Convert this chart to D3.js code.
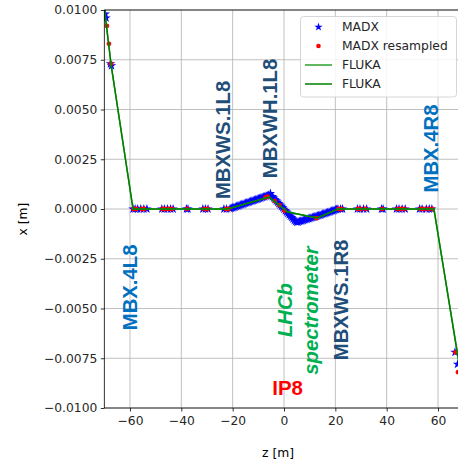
<!DOCTYPE html>
<html>
<head>
<meta charset="utf-8">
<script src="https://cdn.jsdelivr.net/npm/d3@7"></script>
<style>
  html, body { margin: 0; padding: 0; background: #fff; }
  svg { display: block; }
  text { font-family: "DejaVu Sans", sans-serif; }
</style>
</head>
<body>
<svg id="chart" width="458" height="462"></svg>
<script>
// MADX closed orbit around IP8 (star markers)
const madxZ = [
  -69.6, -69.3, -67.6, -67.2,
  -58.8, -58.0, -57.0, -55.8, -54.6, -53.4, -47.6, -46.6, -45.4, -44.2, -43.2,
  -38.0, -37.4, -31.6, -30.6, -29.6, -23.4, -22.4,
  -21, -20.5, -20, -19.5, -19, -18.5, -18, -17.5, -17, -16.5, -16, -15.5, -15, -14.5, -14,
  -13.5, -13, -12.5, -12, -11.5, -11, -10.5, -10, -9.5, -9, -8.5, -8, -7.5, -7, -6.5, -6, -5.3,
  -4.5, -4, -3.5, -3, -2.5, -2, -1.5, -1, -0.5, 0, 0.5, 1, 1.5, 2, 2.5, 3, 3.5, 4, 4.5, 5,
  5.5, 6, 6.5, 7, 7.5, 8, 8.5, 9, 9.5, 10, 10.5, 11, 11.5, 12, 12.5, 13, 13.5, 14, 14.5, 15,
  15.5, 16, 16.5, 17, 17.5, 18, 18.5, 19, 19.5, 20, 20.5, 21,
  22.0, 22.8, 28.6, 29.6, 31.0, 32.2, 38.0, 38.6, 43.8, 44.8, 46.0, 47.2,
  52.8, 53.8, 55.4, 56.6, 57.6,
  66.6, 67.6
];
const madxX = [
  0.0098, 0.0096, 0.0073, 0.0072,
  0, 0, 0, 0, 0, 0, 0, 0, 0, 0, 0,
  0, 0, 0, 0, 0, 0, 0,
  0.00002, 0.00004, 0.00006, 0.00008, 0.0001, 0.00013, 0.00015, 0.00017, 0.0002, 0.00022,
  0.00024, 0.00026, 0.00029, 0.00031, 0.00033, 0.00035, 0.00038, 0.0004, 0.00042, 0.00044,
  0.00047, 0.00049, 0.00051, 0.00053, 0.00056, 0.00058, 0.0006, 0.00062, 0.00065, 0.00067,
  0.00069, 0.00078,
  0.00062, 0.00055, 0.00048, 0.00041, 0.00034, 0.00027, 0.0002, 0.00013, 0.00006, -0.00001,
  -0.00008, -0.00015, -0.00022, -0.00029, -0.00036, -0.00043, -0.0005, -0.00057, -0.00063, -0.00066,
  -0.00065, -0.00063, -0.00061, -0.00059, -0.00057, -0.00055, -0.00053, -0.00051, -0.00049,
  -0.00047, -0.00045, -0.00043, -0.00041, -0.00039, -0.00037, -0.00035, -0.00033, -0.00031,
  -0.00029, -0.00026, -0.00024, -0.00022, -0.0002, -0.00018, -0.00016, -0.00013, -0.00011,
  -0.00009, -0.00007, -0.00004, -0.00002, 0,
  0, 0, 0, 0, 0, 0, 0, 0, 0, 0, 0, 0,
  0, 0, 0, 0, 0,
  -0.0072, -0.0078
];

// MADX orbit resampled on the FLUKA positions (red dots)
const resampledZ = [
  -69.0, -68.2, -67.4,
  -58.6, -57.6, -55.4, -54.4, -47.4, -46.4, -45.0, -43.6, -37.8, -31.2, -29.8, -22.6, -21.6,
  -7.2, -6.4, -3.6, -1.8, 0.2, 12.6,
  21.2, 22.4, 28.8, 29.8, 31.8, 38.2, 44.2, 45.6, 47.0, 53.2, 54.4, 56.2, 57.8,
  66.8, 67.8
];
const resampledX = [
  0.0092, 0.0083, 0.0073,
  0, 0, 0, 0, 0, 0, 0, 0, 0, 0, 0, 0, 0,
  0.00058, 0.00062, 0.0004, 0.00019, -0.00008, -0.00046,
  0, 0, 0, 0, 0, 0, 0, 0, 0, 0, 0, 0, 0,
  -0.0072, -0.0082
];

// FLUKA trajectories
const flukaAZ = [-70, -67.3, -58.8, -22, -5.8, 1.5, 12.9, 21, 58.4, 70];
const flukaAX = [0.0101, 0.0072, 0, 0, 0.0006, -0.00015, -0.00045, 0, 0, -0.0092];
const flukaBZ = [-70, -67.3, -58.8, -22, -5.8, 1.5, 12.9, 21, 58.4, 70];
const flukaBX = [0.0101, 0.0072, 0, 0, 0.0006, -0.00015, -0.00045, 0, 0, -0.0092];

const zTicks = [-60, -40, -20, 0, 20, 40, 60];
const xTicks = [-0.01, -0.0075, -0.005, -0.0025, 0, 0.0025, 0.005, 0.0075, 0.01];

const legendLabels = ["MADX", "MADX resampled", "FLUKA", "FLUKA"];

// Magnet / region annotations: [label, z, x, colour, italic]
const annotations = [
  ["MBXWS.1L8", -21.0, 0.00347, "#1f4e79", false],
  ["MBXWH.1L8", -2.7, 0.00455, "#1f4e79", false],
  ["MBX.4R8", 60.0, 0.00304, "#0070c0", false],
  ["MBX.4L8", -57.3, -0.00394, "#0070c0", false],
  ["LHCb", 3.1, -0.00508, "#00b050", true],
  ["spectrometer", 13.2, -0.0051, "#00b050", true],
  ["MBXWS.1R8", 24.9, -0.00457, "#1f4e79", false]
];

const plot = { left: 104.3, right: 463.7, top: 10, bottom: 408 };

const svg = d3.select("#chart");
const x = d3.scaleLinear().domain([-70, 70]).range([plot.left, plot.right]);
const y = d3.scaleLinear().domain([-0.01, 0.01]).range([plot.bottom, plot.top]);

const minus = s => s.replace("-", "\u2212");

// grid
const grid = svg.append("g").attr("stroke", "#b0b0b0").attr("stroke-width", 0.8);
zTicks.forEach(t => grid.append("line")
  .attr("x1", x(t)).attr("x2", x(t)).attr("y1", plot.top).attr("y2", plot.bottom));
xTicks.forEach(t => grid.append("line")
  .attr("x1", plot.left).attr("x2", plot.right).attr("y1", y(t)).attr("y2", y(t)));

// axes
const xAxis = d3.axisBottom(x).tickValues(zTicks).tickSize(3.5).tickPadding(3.5)
  .tickFormat(d => minus(d3.format("d")(d)));
const yAxis = d3.axisLeft(y).tickValues(xTicks).tickSize(3.5).tickPadding(3.5)
  .tickFormat(d => minus(d3.format(".4f")(d)));

const gx = svg.append("g").attr("transform", `translate(0,${plot.bottom})`).call(xAxis);
const gy = svg.append("g").attr("transform", `translate(${plot.left},0)`).call(yAxis);
[gx, gy].forEach(g => {
  g.select(".domain").remove();
  g.selectAll(".tick line").attr("stroke", "#000").attr("stroke-width", 0.8);
  g.selectAll(".tick text").attr("fill", "#262626").style("font-size", "12.3px")
    .style("font-family", "DejaVu Sans, sans-serif");
});
gx.selectAll(".tick text").attr("dy", "0.71em").attr("y", 8);

// data layer, clipped to plot area
svg.append("clipPath").attr("id", "clip").append("rect")
  .attr("x", plot.left).attr("y", plot.top)
  .attr("width", plot.right - plot.left).attr("height", plot.bottom - plot.top);
const data = svg.append("g").attr("clip-path", "url(#clip)");

const star = d3.symbol().type(d3.symbolStar).size(28);
data.append("g").selectAll("path")
  .data(madxZ.map((z, i) => [z, madxX[i]]))
  .join("path")
  .attr("d", star)
  .attr("transform", d => `translate(${x(d[0])},${y(d[1])})`)
  .attr("fill", "#0000ff");

data.append("g").selectAll("circle")
  .data(resampledZ.map((z, i) => [z, resampledX[i]]))
  .join("circle")
  .attr("cx", d => x(d[0])).attr("cy", d => y(d[1])).attr("r", 2.4)
  .attr("fill", "#ff0000");

const line = d3.line().x(d => x(d[0])).y(d => y(d[1]));
data.append("path").datum(flukaAZ.map((z, i) => [z, flukaAX[i]]))
  .attr("d", line).attr("fill", "none").attr("stroke", "#2ca02c").attr("stroke-width", 1.5);
data.append("path").datum(flukaBZ.map((z, i) => [z, flukaBX[i]]))
  .attr("d", line).attr("fill", "none").attr("stroke", "#008000").attr("stroke-width", 1.5);

// spines
svg.append("rect").attr("x", plot.left).attr("y", plot.top)
  .attr("width", plot.right - plot.left).attr("height", plot.bottom - plot.top)
  .attr("fill", "none").attr("stroke", "#000").attr("stroke-width", 0.8);

// annotations (rotated text)
annotations.forEach(([label, z, v, col, it]) => {
  svg.append("text")
    .attr("transform", `translate(${x(z)},${y(v)}) rotate(-90)`)
    .attr("text-anchor", "middle")
    .style("font-family", "Liberation Sans, Arial, sans-serif")
    .style("font-weight", "bold")
    .style("font-style", it ? "italic" : "normal")
    .style("font-size", "20.3px")
    .attr("fill", col)
    .text(label);
});
svg.append("text")
  .attr("x", x(1.4)).attr("y", y(-0.00935))
  .attr("text-anchor", "middle")
  .style("font-family", "Liberation Sans, Arial, sans-serif")
  .style("font-weight", "bold").style("font-size", "20.5px")
  .attr("fill", "#ff0000").text("IP8");

// axis titles
svg.append("text").attr("x", 278).attr("y", 457).attr("text-anchor", "middle")
  .style("font-size", "12.3px").attr("fill", "#000").text("z [m]");
svg.append("text").attr("transform", "translate(27,219) rotate(-90)")
  .attr("text-anchor", "middle").style("font-size", "12.3px").attr("fill", "#000").text("x [m]");

// legend
const lg = svg.append("g");
lg.append("rect").attr("x", 300.5).attr("y", 16.5).attr("width", 156).attr("height", 80.5)
  .attr("rx", 3).attr("fill", "#fff").attr("fill-opacity", 0.85)
  .attr("stroke", "#cccccc").attr("stroke-width", 0.8);
const rowY = [27, 46, 65, 84];
lg.append("path").attr("d", d3.symbol().type(d3.symbolStar).size(22))
  .attr("transform", `translate(318.5,${rowY[0]})`).attr("fill", "#0000ff");
lg.append("circle").attr("cx", 318.5).attr("cy", rowY[1]).attr("r", 2.3).attr("fill", "#ff0000");
lg.append("line").attr("x1", 305).attr("x2", 332).attr("y1", rowY[2]).attr("y2", rowY[2])
  .attr("stroke", "#2ca02c").attr("stroke-width", 1.5);
lg.append("line").attr("x1", 305).attr("x2", 332).attr("y1", rowY[3]).attr("y2", rowY[3])
  .attr("stroke", "#008000").attr("stroke-width", 1.5);
legendLabels.forEach((t, i) => {
  lg.append("text").attr("x", 342).attr("y", rowY[i]).attr("dy", "0.36em")
    .style("font-size", "12.3px").attr("fill", "#262626").text(t);
});
</script>
</body>
</html>
